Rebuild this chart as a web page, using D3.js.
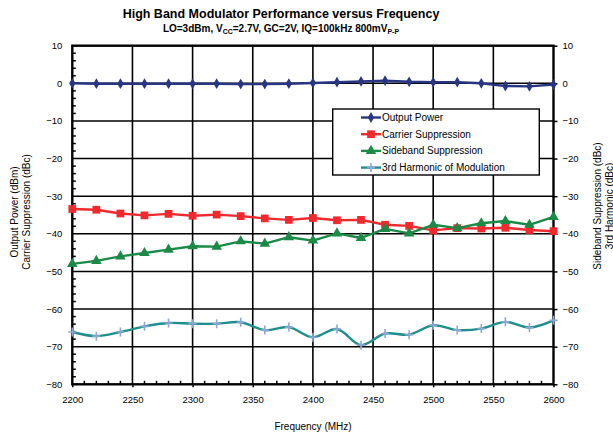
<!DOCTYPE html>
<html>
<head>
<meta charset="utf-8">
<script src="https://cdn.jsdelivr.net/npm/d3@7"></script>
<style>
  html, body { margin: 0; padding: 0; background: #fff; }
  svg { display: block; }
  text { font-family: "Liberation Sans", Arial, sans-serif; fill: #000; }
</style>
</head>
<body>
<svg id="chart" width="613" height="440"></svg>
<script>
// Frequency sweep (MHz)
const freq = [2200, 2220, 2240, 2260, 2280, 2300, 2320, 2340, 2360, 2380, 2400,
              2420, 2440, 2460, 2480, 2500, 2520, 2540, 2560, 2580, 2600];

// Output power (dBm)
const outputPower = [0, -0.1, -0.1, -0.1, -0.1, -0.1, -0.1, -0.2, -0.2, -0.1, 0.1,
                     0.3, 0.5, 0.7, 0.4, 0.3, 0.3, 0.0, -0.7, -0.8, -0.3];
// Carrier suppression (dBc)
const carrierSupp = [-33.4, -33.6, -34.6, -35.1, -34.7, -35.2, -34.9, -35.3, -35.9, -36.3, -35.8,
                     -36.4, -36.3, -37.6, -37.9, -39.1, -38.5, -38.6, -38.4, -39.0, -39.3];
// Sideband suppression (dBc)
const sidebandSupp = [-48.0, -47.2, -46.0, -45.1, -44.2, -43.3, -43.4, -42.0, -42.6, -40.9, -41.8,
                      -39.9, -41.1, -38.7, -39.9, -37.6, -38.5, -37.2, -36.6, -37.6, -35.5];
// 3rd harmonic of modulation (dBc)
const harmonic3 = [-66.1, -67.2, -66.1, -64.6, -63.7, -63.9, -63.9, -63.5, -65.6, -64.8, -67.5,
                   -65.3, -69.6, -66.5, -66.8, -64.3, -65.6, -65.2, -63.4, -64.9, -63.0];

const xTicks = [2200, 2250, 2300, 2350, 2400, 2450, 2500, 2550, 2600];
const yTicks = [10, 0, -10, -20, -30, -40, -50, -60, -70, -80];

const seriesNames = ["Output Power", "Carrier Suppression", "Sideband Suppression", "3rd Harmonic of Modulation"];

const svg = d3.select("#chart");
const plotL = 72.3, plotR = 553.5, plotT = 45.7, plotB = 384.3;

const x = d3.scaleLinear().domain([2200, 2600]).range([plotL, plotR]);
const y = d3.scaleLinear().domain([-80, 10]).range([plotB, plotT]);

// Titles
svg.append("text").attr("x", 281).attr("y", 18).attr("text-anchor", "middle")
  .attr("font-size", 12.5).attr("font-weight", "bold")
  .text("High Band Modulator Performance versus Frequency");

const sub = svg.append("text").attr("x", 281).attr("y", 32).attr("text-anchor", "middle")
  .attr("font-size", 10).attr("font-weight", "bold");
sub.append("tspan").text("LO=3dBm, V");
sub.append("tspan").attr("font-size", 7).attr("dy", 2).text("CC");
sub.append("tspan").attr("dy", -2).text("=2.7V, GC=2V, IQ=100kHz 800mV");
sub.append("tspan").attr("font-size", 7).attr("dy", 2).text("P-P");

// Grid
const grid = svg.append("g");
grid.selectAll("line.v").data(xTicks.slice(1, -1)).join("line")
  .attr("x1", d => x(d)).attr("x2", d => x(d)).attr("y1", plotT).attr("y2", plotB)
  .attr("stroke", "#000").attr("stroke-width", 1.6);
grid.selectAll("line.h").data(yTicks.slice(1, -1)).join("line")
  .attr("x1", plotL).attr("x2", plotR).attr("y1", d => y(d)).attr("y2", d => y(d))
  .attr("stroke", "#000").attr("stroke-width", 1.6);

// Minor ticks: left every 2 units, bottom every 10 MHz (inward)
const yMinor = d3.range(-80, 10.01, 2).filter(v => v % 10 !== 0);
grid.selectAll("line.ym").data(yMinor).join("line")
  .attr("x1", plotL).attr("x2", plotL + 3.5).attr("y1", d => y(d)).attr("y2", d => y(d))
  .attr("stroke", "#000").attr("stroke-width", 1.5);
const xMinor = d3.range(2200, 2600.01, 10).filter(v => v % 50 !== 0);
grid.selectAll("line.xm").data(xMinor).join("line")
  .attr("x1", d => x(d)).attr("x2", d => x(d)).attr("y1", plotB).attr("y2", plotB - 3.5)
  .attr("stroke", "#000").attr("stroke-width", 1.5);

// Frame
svg.append("rect").attr("x", plotL).attr("y", plotT).attr("width", plotR - plotL).attr("height", plotB - plotT)
  .attr("fill", "none").attr("stroke", "#000").attr("stroke-width", 2.4);

// Axes (labels and outer ticks)
const axL = d3.axisLeft(y).tickValues(yTicks).tickSize(0).tickPadding(10).tickFormat(d3.format("d"));
const axR = d3.axisRight(y).tickValues(yTicks).tickSize(4).tickPadding(5).tickFormat(d3.format("d"));
const axB = d3.axisBottom(x).tickValues(xTicks).tickSize(3).tickPadding(9).tickFormat(d3.format("d"));

function styleAxis(g) {
  g.select(".domain").remove();
  g.selectAll(".tick line").attr("stroke", "#000").attr("stroke-width", 1.5);
  g.selectAll("text").attr("font-size", 9.5).attr("font-family", "'Liberation Sans', Arial, sans-serif");
}
svg.append("g").attr("transform", `translate(${plotL},0)`).call(axL).call(styleAxis);
svg.append("g").attr("transform", `translate(${plotR},0)`).call(axR).call(styleAxis);
svg.append("g").attr("transform", `translate(0,${plotB})`).call(axB).call(styleAxis);

// Axis titles
svg.append("text").attr("x", 313).attr("y", 430).attr("text-anchor", "middle")
  .attr("font-size", 10).text("Frequency (MHz)");

const lt = svg.append("text").attr("transform", "translate(18,212) rotate(-90)")
  .attr("text-anchor", "middle").attr("font-size", 10);
lt.append("tspan").attr("x", 0).attr("dy", 0).text("Output Power (dBm)");
lt.append("tspan").attr("x", 0).attr("dy", 11.5).text("Carrier Suppression (dBc)");

const rt = svg.append("text").attr("transform", "translate(601,206) rotate(-90)")
  .attr("text-anchor", "middle").attr("font-size", 10);
rt.append("tspan").attr("x", 0).attr("dy", 0).text("Sideband Suppression (dBc)");
rt.append("tspan").attr("x", 0).attr("dy", 11.5).text("3rd Harmonic (dBc)");

// Series
const series = [
  { name: seriesNames[0], values: outputPower, line: "#283583", mark: "#283583", sym: d3.symbolDiamond, size: 34, curve: d3.curveLinear },
  { name: seriesNames[1], values: carrierSupp, line: "#ee2a2f", mark: "#ee2a2f", sym: d3.symbolSquare, size: 60, curve: d3.curveLinear },
  { name: seriesNames[2], values: sidebandSupp, line: "#1b8a47", mark: "#1b8a47", sym: d3.symbolTriangle, size: 48, curve: d3.curveLinear },
  { name: seriesNames[3], values: harmonic3, line: "#1f8f8c", mark: "#8ea6d6", sym: d3.symbolCross, size: 0, curve: d3.curveCatmullRom.alpha(0.5) }
];

function drawMarker(g, s, cx, cy) {
  if (s.sym === d3.symbolCross) {
    g.append("path").attr("d", `M${cx - 4},${cy}H${cx + 4}M${cx},${cy - 4.5}V${cy + 4.5}`)
      .attr("stroke", s.mark).attr("stroke-width", 1.6).attr("fill", "none");
  } else {
    g.append("path").attr("d", d3.symbol().type(s.sym).size(s.size)())
      .attr("transform", `translate(${cx},${cy})`).attr("fill", s.mark);
  }
}

series.forEach(s => {
  const g = svg.append("g");
  const line = d3.line().x((d, i) => x(freq[i])).y(d => y(d)).curve(s.curve);
  g.append("path").attr("d", line(s.values)).attr("fill", "none")
    .attr("stroke", s.line).attr("stroke-width", 2.4).attr("stroke-linejoin", "round");
  s.values.forEach((v, i) => drawMarker(g, s, x(freq[i]), y(v)));
});

// Legend
const lg = svg.append("g");
lg.append("rect").attr("x", 332.7).attr("y", 109).attr("width", 206.6).attr("height", 66)
  .attr("fill", "#fff").attr("stroke", "#000").attr("stroke-width", 1.4);
series.forEach((s, i) => {
  const yy = 117.5 + i * 16.7;
  lg.append("line").attr("x1", 361).attr("x2", 381).attr("y1", yy).attr("y2", yy)
    .attr("stroke", s.line).attr("stroke-width", 2.4);
  drawMarker(lg, s, 371, yy);
  lg.append("text").attr("x", 382).attr("y", yy + 3.5).attr("font-size", 10).text(s.name);
});
</script>
</body>
</html>
